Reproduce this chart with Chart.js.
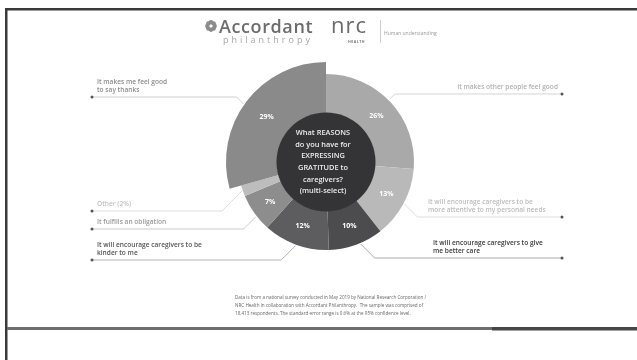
<!DOCTYPE html>
<html>
<head>
<meta charset="utf-8">
<script src="https://cdn.jsdelivr.net/npm/chart.js@4.4.1/dist/chart.umd.min.js"></script>
<style>
  html, body { margin: 0; padding: 0; background: #fff; }
  #wrap { width: 637px; height: 360px; }
</style>
</head>
<body>
<div id="wrap"><canvas id="reasonsChart" width="637" height="360"></canvas></div>
<script>
// Reasons for expressing gratitude (multi-select), clockwise from 12 o'clock
const reasons = [
  'It makes other people feel good',
  'It will encourage caregivers to be more attentive to my personal needs',
  'It will encourage caregivers to give me better care',
  'It will encourage caregivers to be kinder to me',
  'It fulfills an obligation',
  'Other (2%)',
  'It makes me feel good to say thanks'
];
const shares = [26, 13, 10, 12, 7, 2, 29];
const shareLabels = ['26%', '13%', '10%', '12%', '7%', '', '29%'];
const sliceColors = ['#a9a9a9', '#b9b9b9', '#4c4c4e', '#5d5d5f', '#8d8d8d', '#bdbdbd', '#8a8a8a'];

const centerLines = ['What REASONS', 'do you have for', 'EXPRESSING', 'GRATITUDE to', 'caregivers?', '(multi-select)'];
const footnote = [
  'Data is from a national survey conducted in May 2019 by National Research Corporation /',
  'NRC Health in collaboration with Accordant Philanthropy.  The sample was comprised of',
  '18,413 respondents. The standard error range is 0.6% at the 95% confidence level.'
];

const FONT = '"Open Sans", "DejaVu Sans", sans-serif';
const EXPLODED = 6;      // the "feel good to say thanks" slice sticks out
const EXTRA_R = 12;

// callouts: which slice, where the leader line runs, text placement
const callouts = [
  { i: 6, side: 'left',  t: 0.48, lineY: 97,  tx: 97,  align: 'left',  color: '#8c8c8c', line: '#c8c8c8', text: ['It makes me feel good', 'to say thanks'] },
  { i: 5, side: 'left',  t: 0.5,  lineY: 211, tx: 97,  align: 'left',  color: '#c2c2c2', line: '#dadada', text: ['Other (2%)'] },
  { i: 4, side: 'left',  t: 0.4,  lineY: 229, tx: 97,  align: 'left',  color: '#9a9a9a', line: '#c4c4c4', text: ['It fulfills an obligation'] },
  { i: 3, side: 'left',  t: 0.5,  lineY: 260, tx: 97,  align: 'left',  color: '#555',    line: '#aaa',    text: ['It will encourage caregivers to be', 'kinder to me'] },
  { i: 0, side: 'right', t: 0.48, lineY: 94,  tx: 558, align: 'right', color: '#b0b0b0', line: '#d0d0d0', text: ['It makes other people feel good'] },
  { i: 1, side: 'right', t: 0.5,  lineY: 217, tx: 428, align: 'left',  color: '#bcbcbc', line: '#d8d8d8', text: ['It will encourage caregivers to be', 'more attentive to my personal needs'] },
  { i: 2, side: 'right', t: 0.42, lineY: 258, tx: 433, align: 'left',  color: '#3a3a3a', line: '#a0a0a0', text: ['It will encourage caregivers to give', 'me better care'] }
];

const slidePlugin = {
  id: 'slide',
  beforeDraw(chart) {
    const c = chart.ctx;
    const W = chart.width, H = chart.height;
    c.save();
    c.fillStyle = '#fff';
    c.fillRect(0, 0, W, H);
    // slide frame
    c.fillStyle = '#3a3a3a';
    c.fillRect(5, 8, W - 5, 2.5);
    c.fillRect(5, 8, 2.5, H - 8);
    c.fillStyle = '#6e6e6e';
    c.fillRect(7, 327, W - 7, 3);
    c.fillStyle = '#474747';
    c.fillRect(492, 327, W - 492, 3.5);

    // logos
    c.fillStyle = '#8a8a8a';
    for (let k = 0; k < 8; k++) {
      const a = k * Math.PI / 4;
      c.beginPath();
      c.arc(211 + Math.cos(a) * 3.6, 26 + Math.sin(a) * 3.6, 2.3, 0, Math.PI * 2);
      c.fill();
    }
    c.fillStyle = '#fff';
    c.beginPath(); c.arc(211, 26, 1.6, 0, Math.PI * 2); c.fill();

    c.textBaseline = 'alphabetic';
    c.textAlign = 'left';
    c.fillStyle = '#6c6c6c';
    c.font = '600 18px ' + FONT;
    c.letterSpacing = '0.6px';
    c.fillText('Accordant', 219, 33);
    c.fillStyle = '#a4a4a4';
    c.font = '400 9px ' + FONT;
    c.letterSpacing = '3px';
    c.fillText('philanthropy', 223, 43);
    c.fillStyle = '#6a6a6a';
    c.font = '400 22px ' + FONT;
    c.letterSpacing = '1px';
    c.fillText('nrc', 331, 33);
    c.letterSpacing = '0.5px';
    c.font = '700 3.6px ' + FONT;
    c.fillStyle = '#777';
    c.fillText('HEALTH', 348, 43);
    c.letterSpacing = '0px';
    c.strokeStyle = '#c4c4c4';
    c.lineWidth = 0.8;
    c.beginPath(); c.moveTo(380.5, 20); c.lineTo(380.5, 43); c.stroke();
    c.fillStyle = '#999';
    c.font = '400 5px ' + FONT;
    c.fillText('Human understanding', 384, 34.5);

    // footnote
    c.fillStyle = '#666';
    c.font = '400 4.6px ' + FONT;
    footnote.forEach((s, k) => c.fillText(s, 235, 299 + k * 8));
    c.restore();
  },
  afterDatasetsUpdate(chart) {
    const arc = chart.getDatasetMeta(0).data[EXPLODED];
    arc.outerRadius += EXTRA_R;
  },
  afterDatasetsDraw(chart) {
    const c = chart.ctx;
    const arcs = chart.getDatasetMeta(0).data;
    const cx = arcs[0].x, cy = arcs[0].y;
    const inner = arcs[0].innerRadius;
    c.save();
    // dark hub with the question
    c.fillStyle = '#343436';
    c.beginPath(); c.arc(cx, cy, inner + 0.5, 0, Math.PI * 2); c.fill();
    c.fillStyle = '#ececec';
    c.font = '600 7.4px ' + FONT;
    c.textAlign = 'center';
    c.textBaseline = 'middle';
    centerLines.forEach((s, k) => c.fillText(s, cx - 3, cy - 29 + k * 11.6));

    // percentage labels
    c.fillStyle = '#fff';
    c.font = '700 7px ' + FONT;
    arcs.forEach((a, k) => {
      if (!shareLabels[k]) return;
      const p = a.tooltipPosition();
      c.fillText(shareLabels[k], p.x, p.y);
    });

    // leader lines and callout text
    callouts.forEach(o => {
      const a = arcs[o.i];
      const ang = a.startAngle + o.t * (a.endAngle - a.startAngle);
      const r = a.outerRadius + 1;
      const ax = a.x + Math.cos(ang) * r;
      const ay = a.y + Math.sin(ang) * r;
      const dy = Math.abs(ay - o.lineY);
      const ex = o.side === 'left' ? ax - dy : ax + dy;
      const dotX = o.side === 'left' ? 92 : 562;
      c.strokeStyle = o.line;
      c.lineWidth = 0.9;
      c.beginPath();
      c.moveTo(dotX, o.lineY);
      c.lineTo(ex, o.lineY);
      c.lineTo(ax, ay);
      c.stroke();
      c.fillStyle = '#555';
      c.beginPath(); c.arc(dotX, o.lineY, 1.5, 0, Math.PI * 2); c.fill();

      c.fillStyle = o.color;
      c.font = '600 6.6px ' + FONT;
      c.textAlign = o.align;
      c.textBaseline = 'middle';
      const n = o.text.length;
      o.text.forEach((s, k) => c.fillText(s, o.tx, o.lineY - 6.5 - (n - 1 - k) * 8.5));
    });
    c.restore();
  }
};

const ctx = document.getElementById('reasonsChart').getContext('2d');
const reasonsChart = new Chart(ctx, {
  type: 'doughnut',
  data: {
    labels: reasons,
    datasets: [{
      data: shares,
      backgroundColor: sliceColors,
      borderWidth: 0,
      hoverBorderWidth: 0,
      hoverOffset: 0,
      offset: 0,
      clip: false
    }]
  },
  options: {
    responsive: false,
    animation: false,
    cutout: '55.7%',
    layout: { padding: { left: 238, right: 223, top: 74, bottom: 110 } },
    plugins: {
      legend: { display: false },
      tooltip: { enabled: false }
    }
  },
  plugins: [slidePlugin]
});
</script>
</body>
</html>
